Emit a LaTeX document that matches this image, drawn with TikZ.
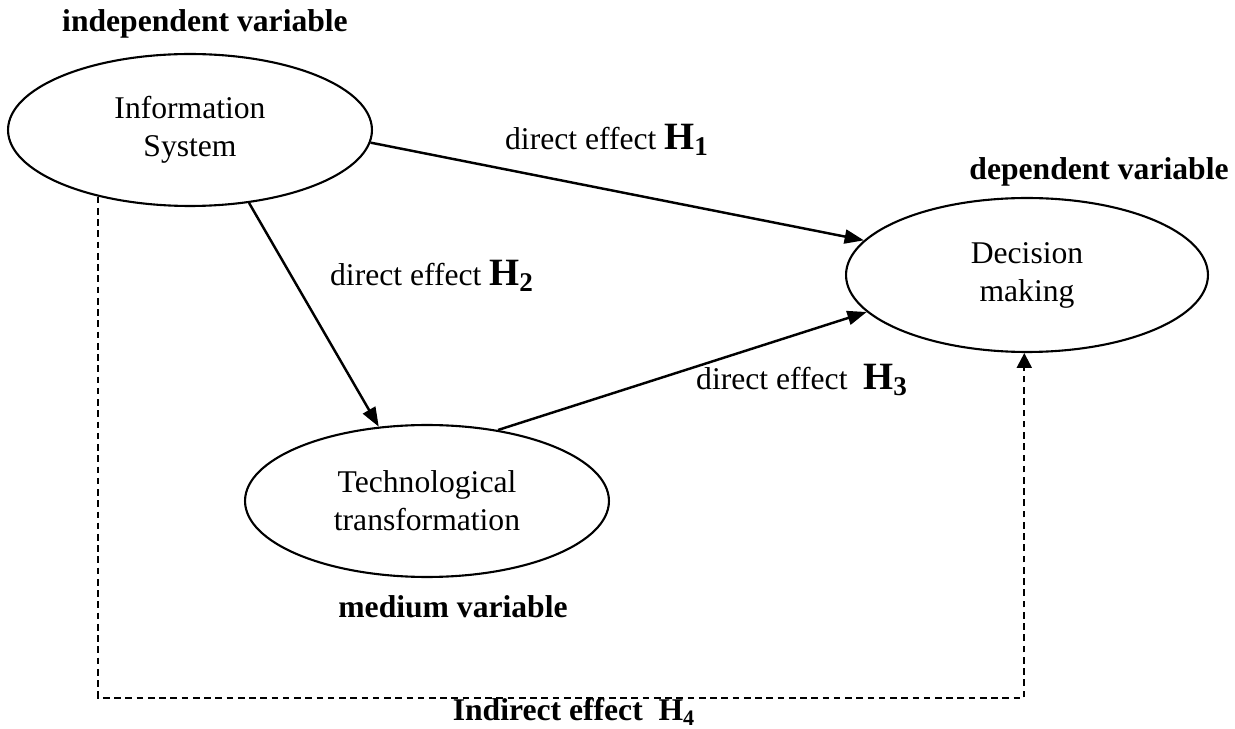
\documentclass[tikz,border=0pt]{standalone}
\usepackage{fontspec}
\setmainfont{Liberation Serif}
\usetikzlibrary{shapes.geometric,arrows.meta}
\newcommand{\hypo}[1]{{\fontsize{22}{22}\selectfont\bfseries H\textsubscript{#1}}}
\begin{document}
\begin{tikzpicture}[x=0.02cm,y=-0.02cm,
  var/.style={draw, ellipse, line width=1.2pt, inner sep=0pt, minimum width=7.28cm,
    minimum height=3.04cm, align=center, font=\fontsize{18}{21.6}\selectfont},
  role/.style={font=\fontsize{18}{21.6}\selectfont\bfseries},
  effect/.style={font=\fontsize{18}{21.6}\selectfont},
  direct/.style={line width=1.4pt, -{Triangle[length=11pt,width=8pt]}},
  indirect/.style={line width=1.3pt, dash pattern=on 3.8pt off 2.6pt,
    -{Triangle[length=8.5pt,width=8.5pt]}}]
\useasboundingbox (0,0) rectangle (1235,729);
\node[var] (info) at (190,130) {Information\\System};
\node[var, minimum width=7.24cm, minimum height=3.08cm] (dec) at (1027,275) {Decision\\making};
\node[var] (tech) at (427,501) {Technological\\transformation};
\node[role] (indep) at (205,24) {independent variable};
\node[role] (depen) at (1099,172) {dependent variable};
\node[role] (medium) at (453,607) {medium variable};
\node[role] (indir) at (574,712) {Indirect effect\ \ H\textsubscript{4}};
\node[effect] (h1) at (607,140) {direct effect \hypo{1}};
\node[effect] (h2) at (432,276) {direct effect \hypo{2}};
\node[effect] (h3) at (802,380) {direct effect\ \ \hypo{3}};
\draw[direct] (info.-4) -- (dec.168);
\draw[direct] (info.-51) -- (tech.123);
\draw[direct] (tech.45) -- (dec.193);
\coordinate (low) at (0,698);
\draw[indirect] (info.216) -- (info.216 |- low) -| (dec.-92);
\end{tikzpicture}
\end{document}
